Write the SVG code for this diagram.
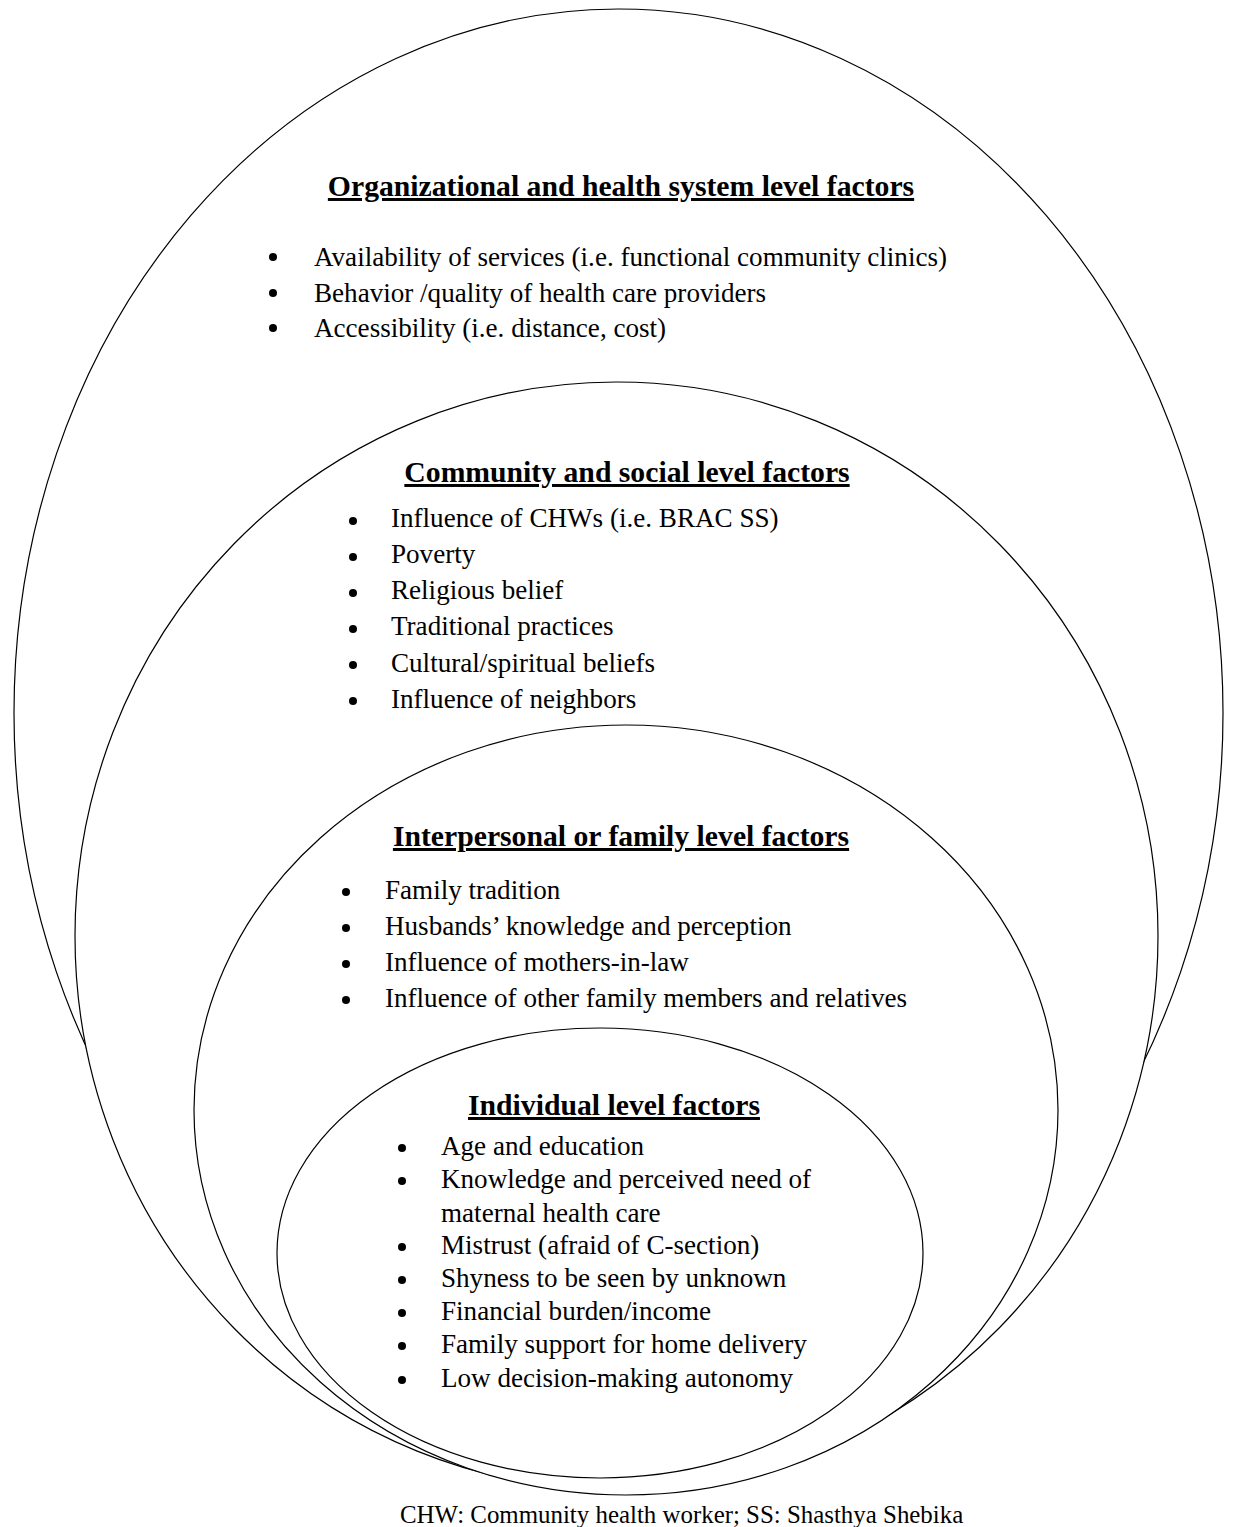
<svg xmlns="http://www.w3.org/2000/svg" width="1233" height="1527" viewBox="0 0 1233 1527">
<style>
.shape{fill:#fff;stroke:#000;stroke-width:1.2}
.ttl{font-family:"Liberation Serif","Times New Roman",serif;font-size:29.7px;font-weight:bold;text-decoration:underline;fill:#000}
.itm{font-family:"Liberation Serif","Times New Roman",serif;font-size:27.1px;fill:#000}
.bul{fill:#000}
.note{font-family:"Liberation Serif","Times New Roman",serif;font-size:24.9px;fill:#000}
</style>
<rect width="1233" height="1527" fill="#fff"/>
<g id="organizational">
<ellipse class="shape" cx="618.5" cy="713" rx="604.5" ry="704"/>
<text class="ttl" x="621" y="196" text-anchor="middle">Organizational and health system level factors</text>
<circle class="bul" cx="273" cy="257" r="4"/><text class="itm" x="314" y="266">Availability of services (i.e. functional community clinics)</text>
<circle class="bul" cx="273" cy="293" r="4"/><text class="itm" x="314" y="302">Behavior /quality of health care providers</text>
<circle class="bul" cx="273" cy="328" r="4"/><text class="itm" x="314" y="337">Accessibility (i.e. distance, cost)</text>
</g>
<g id="community">
<ellipse class="shape" cx="616.5" cy="936" rx="541.5" ry="554"/>
<text class="ttl" x="627" y="482" text-anchor="middle">Community and social level factors</text>
<circle class="bul" cx="353" cy="521" r="4"/><text class="itm" x="391" y="527">Influence of CHWs (i.e. BRAC SS)</text>
<circle class="bul" cx="353" cy="557" r="4"/><text class="itm" x="391" y="563">Poverty</text>
<circle class="bul" cx="353" cy="593" r="4"/><text class="itm" x="391" y="599">Religious belief</text>
<circle class="bul" cx="353" cy="629" r="4"/><text class="itm" x="391" y="635">Traditional practices</text>
<circle class="bul" cx="353" cy="665" r="4"/><text class="itm" x="391" y="672">Cultural/spiritual beliefs</text>
<circle class="bul" cx="353" cy="701" r="4"/><text class="itm" x="391" y="708">Influence of neighbors</text>
</g>
<g id="interpersonal">
<ellipse class="shape" cx="626" cy="1110" rx="432" ry="385"/>
<text class="ttl" x="621" y="846" text-anchor="middle">Interpersonal or family level factors</text>
<circle class="bul" cx="346" cy="892" r="4"/><text class="itm" x="385" y="899">Family tradition</text>
<circle class="bul" cx="346" cy="928" r="4"/><text class="itm" x="385" y="935">Husbands’ knowledge and perception</text>
<circle class="bul" cx="346" cy="964" r="4"/><text class="itm" x="385" y="971">Influence of mothers-in-law</text>
<circle class="bul" cx="346" cy="1000" r="4"/><text class="itm" x="385" y="1007">Influence of other family members and relatives</text>
</g>
<g id="individual">
<ellipse class="shape" cx="600" cy="1253" rx="323" ry="225"/>
<text class="ttl" x="614" y="1115" text-anchor="middle">Individual level factors</text>
<circle class="bul" cx="402" cy="1148" r="4"/><text class="itm" x="441" y="1155">Age and education</text>
<circle class="bul" cx="402" cy="1181" r="4"/><text class="itm" x="441" y="1188">Knowledge and perceived need of</text>
<text class="itm" x="441" y="1222">maternal health care</text>
<circle class="bul" cx="402" cy="1247" r="4"/><text class="itm" x="441" y="1254">Mistrust (afraid of C-section)</text>
<circle class="bul" cx="402" cy="1280" r="4"/><text class="itm" x="441" y="1287">Shyness to be seen by unknown</text>
<circle class="bul" cx="402" cy="1313" r="4"/><text class="itm" x="441" y="1320">Financial burden/income</text>
<circle class="bul" cx="402" cy="1346" r="4"/><text class="itm" x="441" y="1353">Family support for home delivery</text>
<circle class="bul" cx="402" cy="1380" r="4"/><text class="itm" x="441" y="1387">Low decision-making autonomy</text>
</g>
<g id="connectors"></g>
<text class="note" x="400" y="1523">CHW: Community health worker; SS: Shasthya Shebika</text>
</svg>
